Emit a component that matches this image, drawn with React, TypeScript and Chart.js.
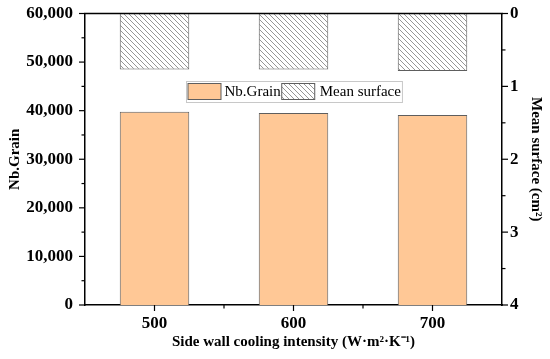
import React, { useEffect, useRef } from 'react';
import { Chart, registerables } from 'chart.js';

Chart.register(...registerables);

const categories = ['500', '600', '700'];
const nbGrain = [39800, 39500, 39100];
const meanSurface = [0.77, 0.77, 0.79];
const leftMin = 0;
const leftMax = 60000;
const leftStep = 10000;
const rightMin = 0;
const rightMax = 4;
const rightStep = 1;
const seriesNames = ['Nb.Grain', 'Mean surface'];
const xTitle = 'Side wall cooling intensity (W·m²·K⁻¹)';
const yTitle = 'Nb.Grain';
const y1Title = 'Mean surface (cm²)';

const FONT = "'Liberation Serif', 'Times New Roman', serif";
const ORANGE = '#FFC896';
const EDGE = '#5e5e5e';

function makeHatch(ctx: CanvasRenderingContext2D) {
  const s = 5;
  const c = document.createElement('canvas');
  c.width = s;
  c.height = s;
  const g = c.getContext('2d')!;
  g.fillStyle = '#ffffff';
  g.fillRect(0, 0, s, s);
  g.strokeStyle = '#8a8a8a';
  g.lineWidth = 0.9;
  g.beginPath();
  g.moveTo(-1, -1);
  g.lineTo(s + 1, s + 1);
  g.moveTo(-1, s - 1);
  g.lineTo(1, s + 1);
  g.moveTo(s - 1, -1);
  g.lineTo(s + 1, 1);
  g.stroke();
  return ctx.createPattern(c, 'repeat')!;
}

function fixSize(dim: 'width' | 'height', v: number) {
  return (s: any) => {
    s[dim] = v;
    s.paddingTop = 0;
    s.paddingBottom = 0;
    s.paddingLeft = 0;
    s.paddingRight = 0;
  };
}

export default function App() {
  const ref = useRef<HTMLCanvasElement>(null);

  useEffect(() => {
    document.body.style.margin = '0';
    const canvas = ref.current!;
    const ctx = canvas.getContext('2d')!;
    const hatch = makeHatch(ctx);

    const decor = {
      id: 'decor',
      afterDraw(chart: any) {
        const c = chart.ctx as CanvasRenderingContext2D;
        const ca = chart.chartArea;
        const ys = chart.scales.y;
        const y1s = chart.scales.y1;
        const xs = chart.scales.x;
        c.save();
        c.strokeStyle = '#000';
        c.lineWidth = 1.5;
        // top border
        c.beginPath();
        c.moveTo(ca.left - 0.75, ca.top);
        c.lineTo(ca.right + 0.75, ca.top);
        c.stroke();
        c.lineWidth = 1.2;
        // left ticks
        for (let v = leftMin; v <= leftMax + 1e-6; v += leftStep / 2) {
          const major = Math.abs(v / leftStep - Math.round(v / leftStep)) < 1e-6;
          const y = ys.getPixelForValue(v);
          c.beginPath();
          c.moveTo(ca.left - (major ? 6 : 3.5), y);
          c.lineTo(ca.left, y);
          c.stroke();
        }
        // right ticks
        for (let v = rightMin; v <= rightMax + 1e-6; v += rightStep / 2) {
          const major = Math.abs(v / rightStep - Math.round(v / rightStep)) < 1e-6;
          const y = y1s.getPixelForValue(v);
          c.beginPath();
          c.moveTo(ca.right, y);
          c.lineTo(ca.right + (major ? 6 : 3.5), y);
          c.stroke();
        }
        // bottom ticks
        for (let i = 0; i < categories.length; i++) {
          const x = xs.getPixelForValue(i);
          c.beginPath();
          c.moveTo(x, ca.bottom);
          c.lineTo(x, ca.bottom + 6);
          c.stroke();
          if (i < categories.length - 1) {
            const xm = xs.getPixelForValue(i + 0.5);
            c.beginPath();
            c.moveTo(xm, ca.bottom);
            c.lineTo(xm, ca.bottom + 3.5);
            c.stroke();
          }
        }
        // legend
        c.font = `15px ${FONT}`;
        const w1 = c.measureText(seriesNames[0]).width;
        const w2 = c.measureText(seriesNames[1]).width;
        const sw = 33;
        const boxW = 1.5 + sw + 3.5 + w1 + 1 + sw + 5 + w2 + 1.5;
        const boxH = 21;
        const cx = (ca.left + ca.right) / 2;
        const bx = Math.round(cx - boxW / 2) + 0.5;
        const by = Math.round(ca.top + 67.5) + 0.5;
        c.fillStyle = '#ffffff';
        c.fillRect(bx, by, boxW, boxH);
        c.strokeStyle = '#c8c8c8';
        c.lineWidth = 1;
        c.strokeRect(bx, by, boxW, boxH);
        let x = bx + 1.5;
        c.fillStyle = ORANGE;
        c.fillRect(x, by + 2, sw, 16);
        c.strokeStyle = EDGE;
        c.strokeRect(x, by + 2, sw, 16);
        x += sw + 3.5;
        c.fillStyle = '#000';
        c.textBaseline = 'middle';
        c.textAlign = 'left';
        c.fillText(seriesNames[0], x, by + boxH / 2 + 0.5);
        x += w1 + 1;
        c.fillStyle = hatch;
        c.fillRect(x, by + 2, sw, 16);
        c.strokeStyle = EDGE;
        c.strokeRect(x, by + 2, sw, 16);
        x += sw + 5;
        c.fillStyle = '#000';
        c.fillText(seriesNames[1], x, by + boxH / 2 + 0.5);
        c.restore();
      },
    };

    const tickFont = { family: FONT, size: 17, weight: 'bold' as const };
    const titleFont = { family: FONT, size: 15, weight: 'bold' as const };

    const chart = new Chart(canvas, {
      type: 'bar',
      data: {
        labels: categories,
        datasets: [
          {
            label: seriesNames[1],
            data: meanSurface,
            yAxisID: 'y1',
            backgroundColor: hatch,
            borderColor: EDGE,
            borderWidth: 1,
            grouped: false,
            barPercentage: 0.5,
            categoryPercentage: 1,
          } as any,
          {
            label: seriesNames[0],
            data: nbGrain,
            yAxisID: 'y',
            backgroundColor: ORANGE,
            borderColor: EDGE,
            borderWidth: 1,
            grouped: false,
            barPercentage: 0.5,
            categoryPercentage: 1,
          } as any,
        ],
      },
      options: {
        responsive: false,
        animation: false,
        layout: { padding: { top: 13.5, left: 0, right: 0, bottom: 0 } },
        plugins: { legend: { display: false }, tooltip: { enabled: false } },
        scales: {
          x: {
            offset: true,
            grid: { display: false, drawTicks: false },
            border: { display: true, color: '#000', width: 1.5 },
            ticks: { color: '#000', font: tickFont, padding: 8, maxRotation: 0 },
            title: { display: true, text: xTitle, color: '#000', font: titleFont, padding: { top: 0, bottom: 8 } },
            afterFit: fixSize('height', 54),
          },
          y: {
            position: 'left',
            min: leftMin,
            max: leftMax,
            grid: { display: false, drawTicks: false },
            border: { display: true, color: '#000', width: 1.5 },
            ticks: {
              stepSize: leftStep,
              color: '#000',
              font: tickFont,
              padding: 12,
              callback: (v: any) => Number(v).toLocaleString('en-US'),
            },
            title: { display: true, text: yTitle, color: '#000', font: titleFont, padding: { top: 6, bottom: 0 } },
            afterFit: fixSize('width', 85),
          },
          y1: {
            position: 'right',
            min: rightMin,
            max: rightMax,
            reverse: true,
            grid: { display: false, drawTicks: false },
            border: { display: true, color: '#000', width: 1.5 },
            ticks: { stepSize: rightStep, color: '#000', font: tickFont, padding: 8 },
            title: { display: true, text: y1Title, color: '#000', font: titleFont, padding: { top: 5, bottom: 0 } },
            afterFit: fixSize('width', 48),
          },
        },
      } as any,
      plugins: [decor],
    });
    return () => chart.destroy();
  }, []);

  return (
    <div style={{ width: 550, height: 359, background: '#fff' }}>
      <canvas ref={ref} width={550} height={359} style={{ display: 'block' }} />
    </div>
  );
}
